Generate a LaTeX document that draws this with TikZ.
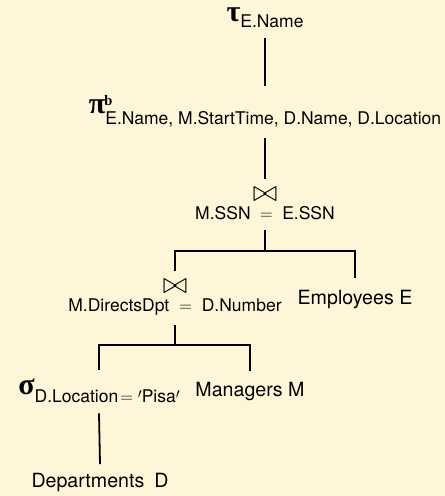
\RequirePackage{fix-cm}
\documentclass[tikz,border=0pt]{standalone}
\usepackage{amsmath}
\usepackage[no-math]{fontspec}
\setmainfont{TeX Gyre Heros}
\newfontfamily\grkfont{Liberation Serif}
\definecolor{bgc}{RGB}{255,246,217}
\newcommand{\subf}{\fontsize{17.5}{18}\selectfont}
\newcommand{\leaff}{\fontsize{19.6}{20}\selectfont}
\newcommand{\greek}[1]{{\grkfont\bfseries\fontsize{30}{30}\selectfont #1}}
\newcommand{\primemark}{\raisebox{4pt}{\fontsize{14}{14}\selectfont$\prime$}}
\newcommand{\opjoin}[1]{\ooalign{\hfil\raisebox{18pt}{\fontsize{30}{30}\selectfont$\bowtie$}\hfil\cr\hfil{\subf #1}\hfil\cr}}
\begin{document}
\begin{tikzpicture}[x=1pt,y=-1pt,line width=1.8pt,
  every node/.style={inner sep=0pt,anchor=base},
  leafnode/.style={font=\leaff}]
\fill[bgc] (0,0) rectangle (445,496);
\node[text height=16pt,text depth=16pt] (tau) at (265,21.5)
  {\greek{τ}\raisebox{-5.5pt}{\subf E.Name}};
\node[text height=27pt,text depth=24pt] (pi) at (265,113.5)
  {\greek{π}\ooalign{\kern-1pt\raisebox{8.5pt}{\grkfont\bfseries\fontsize{14.5}{14}\selectfont b}\hfil\cr\raisebox{-10.5pt}{\subf E.Name, M.StartTime, D.Name, D.Location}\hfil\cr}};
\node[text height=39pt,text depth=10.5pt] (j1) at (265,219)
  {\opjoin{M.SSN\hspace{9.5pt}$=$\hspace{9.5pt}E.SSN}};
\node[text height=39pt,text depth=13pt] (j2) at (175,311)
  {\opjoin{M.DirectsDpt\hspace{10pt}$=$\hspace{10pt}D.Number}};
\node[leafnode,text height=25pt,text depth=4pt] (emp) at (355,304) {Employees E};
\node[text height=24pt,text depth=18pt] (sig) at (99,394.5)
  {\greek{σ}\raisebox{-8pt}{\subf D.Location\hspace{2pt}$=$\hspace{5pt}\primemark Pisa\primemark}};
\node[leafnode,text height=24pt,text depth=4pt] (mgr) at (250,396) {Managers M};
\node[leafnode,text height=22.5pt,text depth=4pt] (dep) at (100,487.5) {Departments\hspace{10pt}D};
\draw (tau.south) -- (pi.north);
\draw (pi.south) -- (j1.north);
\draw (j1.south) -- ++(0,20.5) coordinate (b1);
\draw (j2.north) |- (b1) -| (emp.north);
\draw (j2.south) -- ++(0,20) coordinate (b2);
\draw (sig.north) |- (b2) -| (mgr.north);
\draw (sig.south) -- (dep.north);
\end{tikzpicture}
\end{document}
